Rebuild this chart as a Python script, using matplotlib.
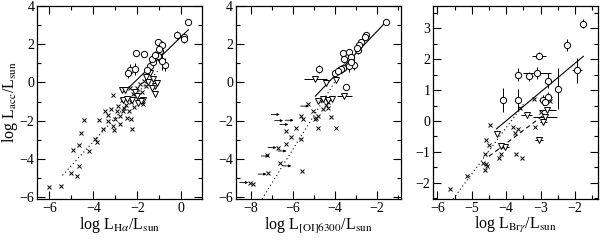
import matplotlib
matplotlib.use("Agg")
import matplotlib.pyplot as plt
from matplotlib.ticker import MultipleLocator
import numpy as np

plt.rcParams['font.family'] = ['Liberation Serif', 'DejaVu Serif']
plt.rcParams['mathtext.fontset'] = 'stix'
plt.rcParams['font.size'] = 10

# ---- panel 1 : H alpha ----
ha_circ_x = [0.32, -0.18, 0.14, 0.10, -1.07, -0.89, -2.06, -1.68, -0.97, -1.05, -0.74,
             -0.90, -2.33, -2.10, -2.41, -1.42, -1.27, -1.35, -1.57, -1.20, -1.00]
ha_circ_y = [3.18, 2.49, 2.40, 2.28, 2.14, 1.97, 1.54, 1.50, 1.62, 1.36, 0.93,
             1.10, 0.67, 0.70, 0.49, 0.84, 1.05, 1.25, 0.65, 1.45, 1.75]
ha_circ_yerr = [0.15, 0.2, 0.2, 0.2, 0.15, 0.2, 0.15, 0.15, 0.2, 0.25, 0.35,
                0.45, 0.3, 0.3, 0.25, 0.2, 0.2, 0.2, 0.2, 0.2, 0.2]
ha_tri_x = [-2.71, -2.56, -1.20, -2.64, -2.26, -1.95, -1.73, -1.50, -1.27, -1.42, -1.20,
            -1.35, -2.10, -2.03, -2.45, -1.85, -1.10, -1.60]
ha_tri_y = [-0.41, -0.41, -0.60, -0.90, -0.90, -1.08, -0.90, 0.00, 0.17, 0.47, -0.20,
            -0.30, -0.48, -0.73, -0.85, -0.95, -0.05, 0.30]
ha_x_x = [-6.0, -5.48, -4.75, -5.03, -4.64, -4.91, -4.64, -4.2, -4.56, -4.41, -3.74, -3.92,
          -3.82, -3.55, -3.35, -3.47, -3.32, -3.12, -3.09, -3.08, -2.86, -2.64, -2.25, -2.29,
          -2.48, -2.78, -2.92, -2.71, -2.5, -2.3, -2.2, -2.0, -1.9, -2.6, -2.4, -2.15, -1.8,
          -3.0, -2.8, -3.2, -1.6, -1.7, -2.35, -1.75]
ha_x_y = [-5.5, -5.41, -4.92, -4.75, -4.37, -3.55, -3.28, -3.59, -2.67, -1.97, -1.97, -2.98,
          -3.12, -2.46, -2.03, -1.5, -1.68, -0.67, -2.29, -2.5, -1.24, -1.5, -2.42, -1.89,
          -1.85, -1.77, -1.5, -0.9, -1.2, -1.0, -0.6, -0.3, -0.1, -1.35, -1.5, -1.3, -0.5,
          -1.9, -2.2, -1.4, -0.2, 0.1, -0.3, -1.15]
ha_fit_all = (1.26, 1.94, -5.4, -1.0)    # slope, intercept, x from, x to
ha_fit_det = (1.12, 2.40, -2.5, 0.32)

# ---- panel 2 : [OI] 6300 ----
oi_circ_x = [-1.55, -2.50, -2.57, -2.74, -2.82, -2.87, -3.58, -3.30, -3.22, -3.53, -3.06,
             -3.30, -3.60, -4.00, -3.76, -3.70, -3.85, -4.74, -3.48, -3.20, -2.95]
oi_circ_y = [3.18, 2.49, 2.38, 2.14, 1.97, 1.70, 1.54, 1.57, 1.35, 1.20, 0.93,
             0.85, 0.78, 0.49, 0.67, 0.72, 0.60, 0.70, -0.23, 1.05, 1.80]
oi_circ_yerr = [0.1, 0.15, 0.15, 0.15, 0.15, 0.2, 0.15, 0.2, 0.2, 0.2, 0.3,
                0.3, 0.2, 0.15, 0.15, 0.15, 0.15, 0.2, 0.15, 0.3, 0.2]
oi_tri_x = [-4.92, -4.40, -3.92, -4.78, -4.53, -4.33, -4.10, -3.53]
oi_tri_y = [0.20, -0.03, 0.15, -0.98, -0.86, -0.90, -0.86, -0.69]
oi_tri_xerr = [0.55, 0.0, 0.0, 0.0, 0.1, 0.1, 0.0, 0.35]
oi_lim_x = [-6.61, -6.45, -6.20, -5.95, -6.77, -7.09, -6.29, -7.24, -8.11, -6.06, -5.22]
oi_lim_y = [-1.68, -2.00, -2.20, -1.98, -3.41, -3.85, -3.59, -4.80, -5.24, -4.37, -1.24]
oi_x_x = [-5.25, -5.58, -5.5, -5.03, -4.95, -4.87, -4.8, -5.82, -6.33, -4.8, -3.92, -4.16,
          -6.06, -5.58, -6.33, -6.61, -5.55, -7.16, -8.03, -7.9, -4.53, -4.33, -4.43, -4.3,
          -4.15, -4.6, -6.7, -7.2]
oi_x_y = [-1.13, -1.77, -1.9, -1.5, -1.94, -1.85, -1.77, -2.37, -2.55, -2.37, -2.37, -1.82,
          -2.84, -2.98, -3.24, -4.23, -4.63, -4.75, -5.24, -5.33, -1.38, -1.33, -1.2, -1.0,
          -0.8, -0.9, -3.45, -3.8]
oi_fit_all = (1.77, 7.09, -7.45, -3.9)
oi_fit_det = (1.157, 4.97, -4.92, -1.55)

# ---- panel 3 : Br gamma ----
br_circ_x = [-1.76, -2.24, -3.05, -1.95, -3.65, -3.33, -3.10, -2.78, -2.49, -4.09,
             -3.65, -2.94, -2.78, -2.88]
br_circ_y = [3.15, 2.46, 2.11, 1.64, 1.50, 1.45, 1.56, 1.31, 1.05, 0.68,
             0.68, 0.68, 0.79, 0.62]
br_circ_xerr = [0, 0, 0.2, 0.15, 0, 0.1, 0.4, 0, 0, 0, 0, 0.12, 0.1, 0.1]
br_circ_yerr = [0.15, 0.2, 0.12, 0.4, 0.2, 0.15, 0.2, 0.25, 0.67, 0.4, 0.35, 0.15, 0.15, 0.1]
br_tri_x = [-4.28, -4.04, -4.15, -3.41, -2.81, -2.87, -2.92, -3.05]
br_tri_y = [-0.41, -0.83, -0.80, 0.20, 0.37, 0.12, -0.04, -0.60]
br_tri_xerr = [0, 0.12, 0, 0.15, 0.25, 0.35, 0.1, 0.12]
br_x_x = [-4.47, -4.59, -4.51, -4.62, -4.16, -4.14, -4.2, -4.67, -4.6, -4.62, -5.15, -3.8,
          -3.65, -3.75, -3.73, -3.55, -3.17, -3.2, -2.73, -3.6, -5.64, -3.0, -4.55]
br_x_y = [-0.12, -0.62, -0.78, -1.05, -0.8, -1.05, -1.18, -1.37, -1.4, -1.58, -1.79, -0.19,
          -0.25, -0.4, -1.05, -1.2, -0.19, 0.72, 0.65, 0.42, -2.19, 0.3, -1.45]
br_fit_all = (1.5, 5.79, -5.54, -3.46)
br_fit_dash = (0.84, 2.64, -4.5, -2.9)
br_fit_det = (0.93, 3.73, -4.28, -1.76)

fig = plt.figure(figsize=(6, 2.4), dpi=100)
ax1 = fig.add_axes([0.062, 0.171, 0.275, 0.804])
ax2 = fig.add_axes([0.393, 0.171, 0.275, 0.804])
ax3 = fig.add_axes([0.722, 0.171, 0.275, 0.804])

circ_kw = dict(fmt='o', ms=4.5, mfc='white', mec='black', mew=0.7, ecolor='black',
               elinewidth=0.7, capsize=0, zorder=3)
tri_kw = dict(fmt='v', ms=4.5, mfc='white', mec='black', mew=0.7, ecolor='black',
              elinewidth=0.7, capsize=0, zorder=3)
dots = (0, (1, 2.5))


def fitline(ax, fit, ls):
    a, b, x0, x1 = fit
    xx = np.linspace(x0, x1, 50)
    ax.plot(xx, a * xx + b, color='black', lw=0.8, ls=ls, zorder=2)


def style(ax, xlim, ylim, xmaj, xmin, ymaj, ymin):
    ax.set_xlim(*xlim)
    ax.set_ylim(*ylim)
    ax.xaxis.set_major_locator(MultipleLocator(xmaj))
    ax.xaxis.set_minor_locator(MultipleLocator(xmin))
    ax.yaxis.set_major_locator(MultipleLocator(ymaj))
    ax.yaxis.set_minor_locator(MultipleLocator(ymin))
    ax.tick_params(which='both', direction='in', top=True, right=True, width=0.8,
                   labelsize=10)
    ax.tick_params(which='major', length=5.5, pad=2)
    ax.tick_params(which='minor', length=3)
    for s in ax.spines.values():
        s.set_linewidth(0.9)


# panel 1
ax1.plot(ha_x_x, ha_x_y, 'x', ms=2.5, mew=0.7, color='black', zorder=2)
fitline(ax1, ha_fit_all, dots)
fitline(ax1, ha_fit_det, '-')
ax1.errorbar(ha_tri_x, ha_tri_y, **tri_kw)
ax1.errorbar(ha_circ_x, ha_circ_y, yerr=ha_circ_yerr, **circ_kw)
style(ax1, (-6.55, 0.95), (-6.1, 4.0), 2, 1, 2, 1)
ax1.set_xlabel(r'log L$_{\mathrm{H}\alpha}$/L$_{\mathrm{sun}}$', fontsize=11.5, labelpad=0)
ax1.set_ylabel(r'log L$_{\mathrm{acc}}$/L$_{\mathrm{sun}}$', fontsize=11.5, labelpad=0)

# panel 2
ax2.plot(oi_x_x, oi_x_y, 'x', ms=2.5, mew=0.7, color='black', zorder=2)
for xl, yl in zip(oi_lim_x, oi_lim_y):
    ax2.annotate('', xy=(xl, yl), xytext=(xl - 0.4, yl),
                 arrowprops=dict(arrowstyle='-|>', lw=0.6, color='black',
                                 mutation_scale=3.5, shrinkA=0, shrinkB=0))
fitline(ax2, oi_fit_all, dots)
fitline(ax2, oi_fit_det, '-')
ax2.errorbar(oi_tri_x, oi_tri_y, xerr=oi_tri_xerr, **tri_kw)
ax2.errorbar(oi_circ_x, oi_circ_y, yerr=oi_circ_yerr, **circ_kw)
style(ax2, (-8.7, -0.85), (-6.1, 4.0), 2, 1, 2, 1)
ax2.set_xlabel(r'log L$_{\mathrm{[OI]6300}}$/L$_{\mathrm{sun}}$', fontsize=11.5, labelpad=0)

# panel 3
ax3.plot(br_x_x, br_x_y, 'x', ms=2.5, mew=0.7, color='black', zorder=2)
fitline(ax3, br_fit_all, dots)
fitline(ax3, br_fit_dash, (0, (4, 3)))
fitline(ax3, br_fit_det, '-')
ax3.errorbar(br_tri_x, br_tri_y, xerr=br_tri_xerr, **tri_kw)
ax3.errorbar(br_circ_x, br_circ_y, xerr=br_circ_xerr, yerr=br_circ_yerr, **circ_kw)
style(ax3, (-6.12, -1.33), (-2.52, 3.72), 1, 0.5, 1, 0.5)
ax3.set_xlabel(r'log L$_{\mathrm{Br}\gamma}$/L$_{\mathrm{sun}}$', fontsize=11.5, labelpad=0)

fig.savefig('out.png', dpi=100)
